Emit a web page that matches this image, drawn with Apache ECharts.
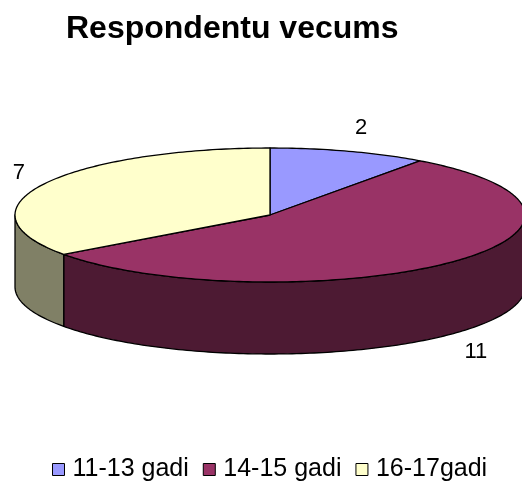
<!DOCTYPE html>
<html>
<head>
<meta charset="utf-8">
<script src="https://cdn.jsdelivr.net/npm/echarts@6/dist/echarts.min.js"></script>
<style>
html,body{margin:0;padding:0;background:#fff;}
#chart{width:522px;height:483px;}
</style>
</head>
<body>
<div id="chart"></div>
<script>
const titleText = 'Respondentu vecums';
const categories = ['11-13 gadi', '14-15 gadi', '16-17gadi'];
const values = [2, 11, 7];
const topColors = ['#9999FF', '#993366', '#FFFFCC'];
const sideColors = ['#4D4D80', '#4D1A33', '#808066'];

const FONT = "'Liberation Sans', Arial, sans-serif";
const CX = 270, CY = 215, RX = 255, RY = 67, DEPTH = 72;
const total = values.reduce((a, b) => a + b, 0);

function pt(t, dy) {
  return [CX + RX * Math.sin(t), CY - RY * Math.cos(t) + (dy || 0)];
}
function arc(a, b, dy) {
  const pts = [];
  const n = Math.max(2, Math.ceil(Math.abs(b - a) / (Math.PI / 180)));
  for (let k = 0; k <= n; k++) pts.push(pt(a + (b - a) * k / n, dy));
  return pts;
}

function makeRender(i) {
  return function (params, api) {
    let before = 0;
    for (let j = 0; j < i; j++) before += values[j];
    const v = api.value(0);
    const start = before / total * Math.PI * 2;
    const end = (before + v) / total * Math.PI * 2;
    const children = [];
    const a = Math.max(start, Math.PI / 2), b = Math.min(end, Math.PI * 1.5);
    if (a < b) {
      const pts = arc(a, b, 0).concat(arc(b, a, DEPTH));
      children.push({
        type: 'polygon', z2: 1,
        shape: { points: pts },
        style: { fill: sideColors[i], stroke: '#000', lineWidth: 1.3, lineJoin: 'round' }
      });
    }
    const topPts = [[CX, CY]].concat(arc(start, end, 0));
    children.push({
      type: 'polygon', z2: 2,
      shape: { points: topPts },
      style: { fill: topColors[i], stroke: '#000', lineWidth: 1.3, lineJoin: 'round' }
    });
    const mid = (start + end) / 2;
    const lx = CX + (RX + 20) * Math.sin(mid);
    const ly = CY - (RY + 25) * Math.cos(mid) + (Math.cos(mid) < 0 ? DEPTH : 0);
    children.push({
      type: 'text', z2: 3,
      style: {
        text: String(v), x: lx, y: ly,
        fill: '#000', fontSize: 22, fontFamily: FONT,
        align: Math.sin(mid) >= 0 ? 'left' : 'right', verticalAlign: 'middle'
      }
    });
    return { type: 'group', children: children };
  };
}

const chart = echarts.init(document.getElementById('chart'), null, { renderer: 'canvas' });
chart.setOption({
  animation: false,
  backgroundColor: '#fff',
  title: {
    text: titleText, left: 66, top: 13, padding: 0,
    textStyle: { fontSize: 32, fontWeight: 'bold', color: '#000', fontFamily: FONT }
  },
  legend: {
    data: categories, left: 52, top: 457, padding: 0,
    itemWidth: 12, itemHeight: 12, itemGap: 14, icon: 'rect',
    selectedMode: false,
    itemStyle: { borderColor: '#000', borderWidth: 1 },
    textStyle: { fontSize: 25, color: '#000', fontFamily: FONT, padding: [0, 0, 0, 3] }
  },
  series: categories.map((name, i) => ({
    type: 'custom', name: name, coordinateSystem: 'none', silent: true,
    itemStyle: { color: topColors[i] },
    data: [[values[i]]],
    renderItem: makeRender(i)
  }))
});
</script>
</body>
</html>
